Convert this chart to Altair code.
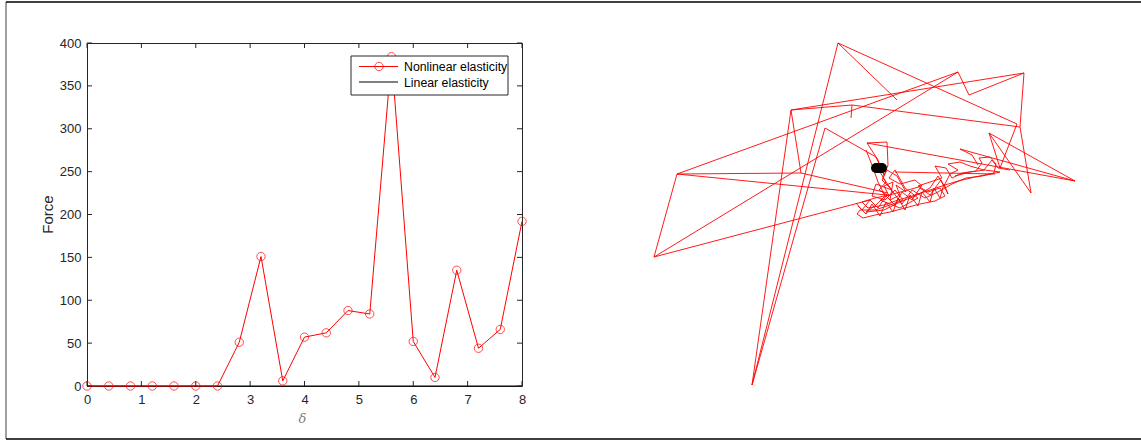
import altair as alt
import pandas as pd

# ---------------- left panel data ----------------
delta = [0.0, 0.4, 0.8, 1.2, 1.6, 2.0, 2.4, 2.8, 3.2, 3.6, 4.0, 4.4, 4.8, 5.2, 5.6, 6.0, 6.4, 6.8, 7.2, 7.6, 8.0]
nonlinear = [0, 0, 0, 0, 0, 0, 0, 51, 151, 6, 57, 62, 88, 84, 384, 52, 10, 135, 44, 66, 192]
linear = [0, 0, 0, 0, 0, 0, 0, 0, 0, 0, 0, 0, 0, 0, 0, 0, 0, 0, 0, 0, 0]
x_ticks = [0, 1, 2, 3, 4, 5, 6, 7, 8]
y_ticks = [0, 50, 100, 150, 200, 250, 300, 350, 400]
legend_labels = ["Nonlinear elasticity", "Linear elasticity"]

# ---------------- right panel data (traced polylines) ----------------
strokes = {
    "s1": [(654, 257), (677, 174), (958, 72), (969, 95), (1024, 73), (1020, 127), (1031, 193),
           (989, 133), (1075, 181), (960, 149), (972, 155), (978, 165)],
    "s2": [(958, 72), (654, 257), (870, 200)],
    "s3": [(838, 43), (752, 385), (791, 110), (801, 173), (677, 174), (887, 195)],
    "s4": [(838, 43), (1017, 124), (1000, 168), (989, 133)],
    "s5": [(838, 43), (897, 100)],
    "s6": [(791, 110), (852, 105), (851, 118)],
    "s7": [(852, 105), (1020, 127)],
    "s8": [(752, 385), (825, 128), (876, 157), (884, 175)],
    "s9": [(791, 110), (1024, 73)],
    "s10": [(801, 173), (888, 193)],
    "s11": [(895, 172), (995, 174)],
    "s12": [(867, 143), (1075, 181)],
    "tangle": [(884, 175), (878, 160), (867, 143), (887, 142), (888, 165), (883, 178), (892, 190),
               (876, 184), (872, 196), (885, 200), (895, 190), (903, 200), (890, 205), (875, 210),
               (860, 210), (857, 214), (863, 218), (875, 215), (890, 212), (905, 208), (920, 204),
               (935, 201), (945, 196), (940, 188), (928, 192), (918, 186), (930, 182), (942, 178),
               (935, 166), (946, 168), (952, 178), (962, 173), (976, 171), (982, 163), (979, 158),
               (990, 157), (996, 164), (994, 173), (975, 177), (958, 181), (945, 185), (930, 190),
               (912, 196), (898, 200), (884, 205), (868, 208), (862, 202), (875, 198), (893, 194),
               (908, 190), (922, 186), (915, 180), (900, 184), (889, 178), (895, 170), (905, 188),
               (918, 198), (900, 208), (880, 200)],
    "tangle2": [(858, 206), (866, 214), (872, 204), (880, 216), (886, 202), (893, 212), (898, 198),
                (905, 210), (910, 195), (918, 206), (922, 192), (930, 202), (934, 188), (940, 198),
                (944, 184), (948, 194), (941, 180), (930, 195), (920, 188), (912, 200), (902, 192),
                (895, 205), (886, 196), (878, 208), (870, 200), (862, 210), (856, 203)],
    "tangle3": [(880, 172), (886, 182), (879, 190), (889, 196), (884, 186), (893, 182), (890, 200),
                (900, 195), (896, 185), (906, 192), (897, 176), (887, 170), (882, 180), (890, 188),
                (902, 204), (912, 190), (925, 198), (938, 192), (952, 184), (966, 178), (982, 176),
                (1000, 172), (985, 170), (970, 172), (955, 176)],
    "tangle4": [(866, 150), (872, 165), (878, 182), (885, 196), (876, 205), (866, 212), (884, 210),
                (900, 202), (915, 196), (930, 188), (938, 176), (944, 186), (950, 174), (958, 170),
                (948, 164), (960, 162), (970, 166), (984, 170), (992, 160), (998, 168), (1010, 170)],
}
blob = [(876, 168), (882, 168)]

# ---------------- build tables ----------------
df_left = pd.DataFrame({"delta": delta, "nonlinear": nonlinear, "linear": linear})
df_xt = pd.DataFrame({"t": x_ticks})
df_yt = pd.DataFrame({"t": y_ticks})
rows = []
for sid, pts in strokes.items():
    for i, (px, py) in enumerate(pts):
        rows.append({"sid": sid, "i": i, "px": px, "py": py})
df_right = pd.DataFrame(rows)
df_blob = pd.DataFrame({"i": [0, 1], "px": [p[0] for p in blob], "py": [p[1] for p in blob]})
one = pd.DataFrame({"a": [0]})

W, H = 435, 343
FONT = "Liberation Sans"
AX = "#262626"

xs = alt.Scale(domain=[0, 8], nice=False, zero=False)
ys = alt.Scale(domain=[0, 400], nice=False, zero=False)

xaxis = alt.Axis(values=x_ticks, format="d", title="δ", ticks=False, domain=False, grid=False,
                 labelFlush=False,
                 labelFont=FONT, labelFontSize=13, labelColor=AX, labelPadding=7,
                 titleFont="DejaVu Serif", titleFontStyle="italic", titleFontWeight="normal",
                 titleFontSize=13, titleColor="#808080", titleX=215, titleY=32, titleBaseline="middle")
yaxis = alt.Axis(values=y_ticks, format="d", title="Force", ticks=False, domain=False, grid=False,
                 labelFlush=False,
                 labelFont=FONT, labelFontSize=13, labelColor=AX, labelPadding=6,
                 titleFont=FONT, titleFontWeight="normal", titleFontSize=15, titleColor=AX,
                 titleX=-40, titleY=171, titleBaseline="middle", titleAngle=270)

base = alt.Chart(df_left)
lin = base.mark_line(color="black", strokeWidth=1.2, clip=False).encode(
    x=alt.X("delta:Q", scale=xs, axis=xaxis), y=alt.Y("linear:Q", scale=ys, axis=yaxis))
nl_line = base.mark_line(color="#ff0000", strokeWidth=1, clip=False).encode(
    x=alt.X("delta:Q", scale=xs), y=alt.Y("nonlinear:Q", scale=ys))
nl_pts = base.mark_point(shape="circle", filled=False, color="#ff0000", size=70, strokeWidth=1,
                         clip=False).encode(
    x=alt.X("delta:Q", scale=xs), y=alt.Y("nonlinear:Q", scale=ys))

tk = alt.Chart(df_xt).mark_rule(color=AX, strokeWidth=1)
xt_bottom = tk.encode(x=alt.X("t:Q", scale=xs), y=alt.value(H), y2=alt.value(H - 5))
xt_top = tk.encode(x=alt.X("t:Q", scale=xs), y=alt.value(0), y2=alt.value(5))
tky = alt.Chart(df_yt).mark_rule(color=AX, strokeWidth=1)
yt_left = tky.encode(y=alt.Y("t:Q", scale=ys), x=alt.value(0), x2=alt.value(5))
yt_right = tky.encode(y=alt.Y("t:Q", scale=ys), x=alt.value(W), x2=alt.value(W - 5))

# legend (drawn by hand, MATLAB style)
c1 = alt.Chart(one)
leg_box = c1.mark_rect(fill="white", stroke=AX, strokeWidth=1).encode(
    x=alt.value(264), x2=alt.value(421), y=alt.value(13), y2=alt.value(52))
leg_r = c1.mark_rule(color="#ff0000", strokeWidth=1).encode(
    x=alt.value(272), x2=alt.value(311), y=alt.value(23.5))
leg_c = c1.mark_point(shape="circle", filled=False, color="#ff0000", size=70, strokeWidth=1).encode(
    x=alt.value(292), y=alt.value(23.5))
leg_k = c1.mark_rule(color="black", strokeWidth=1).encode(
    x=alt.value(272), x2=alt.value(311), y=alt.value(39))
leg_t1 = c1.mark_text(text=legend_labels[0], font=FONT, fontSize=12.3, color="#000000",
                      align="left", baseline="middle").encode(x=alt.value(317), y=alt.value(24))
leg_t2 = c1.mark_text(text=legend_labels[1], font=FONT, fontSize=12.3, color="#000000",
                      align="left", baseline="middle").encode(x=alt.value(317), y=alt.value(39.5))

# outer frame
fr_left = c1.mark_rule(color="#a0a0a0", strokeWidth=2).encode(
    x=alt.value(-81), y=alt.value(-41), y2=alt.value(396))
fr_top = c1.mark_rule(color="#000000", strokeWidth=1.5).encode(
    x=alt.value(-81), x2=alt.value(1054), y=alt.value(-41))
fr_bot = c1.mark_rule(color="#000000", strokeWidth=1.5).encode(
    x=alt.value(-81), x2=alt.value(1054), y=alt.value(396))

left = alt.layer(lin, nl_line, nl_pts, xt_bottom, xt_top, yt_left, yt_right,
                 leg_box, leg_r, leg_c, leg_k, leg_t1, leg_t2, fr_left, fr_top, fr_bot)

# right panel
rxs = alt.Scale(domain=[87, 522], nice=False, zero=False)
rys = alt.Scale(domain=[43, 386], nice=False, zero=False, reverse=True)
scrib = alt.Chart(df_right).mark_line(color="#ff0000", strokeWidth=0.9, clip=False).encode(
    x=alt.X("px:Q", scale=rxs, axis=None), y=alt.Y("py:Q", scale=rys, axis=None),
    detail="sid:N", order="i:Q")
blob_m = alt.Chart(df_blob).mark_line(color="black", strokeWidth=10, strokeCap="round",
                                      clip=False).encode(
    x=alt.X("px:Q", scale=rxs, axis=None), y=alt.Y("py:Q", scale=rys, axis=None), order="i:Q")
right = alt.layer(scrib, blob_m)

chart = alt.layer(left, right).resolve_scale(x="independent", y="independent").properties(
    width=W, height=H,
    padding={"left": 87, "top": 43, "right": 619, "bottom": 55},
    autosize=alt.AutoSizeParams(type="none"),
    background="white",
).configure_view(stroke=AX, strokeWidth=1)

chart.save("out.html", embed_options={"renderer": "svg", "actions": False})
